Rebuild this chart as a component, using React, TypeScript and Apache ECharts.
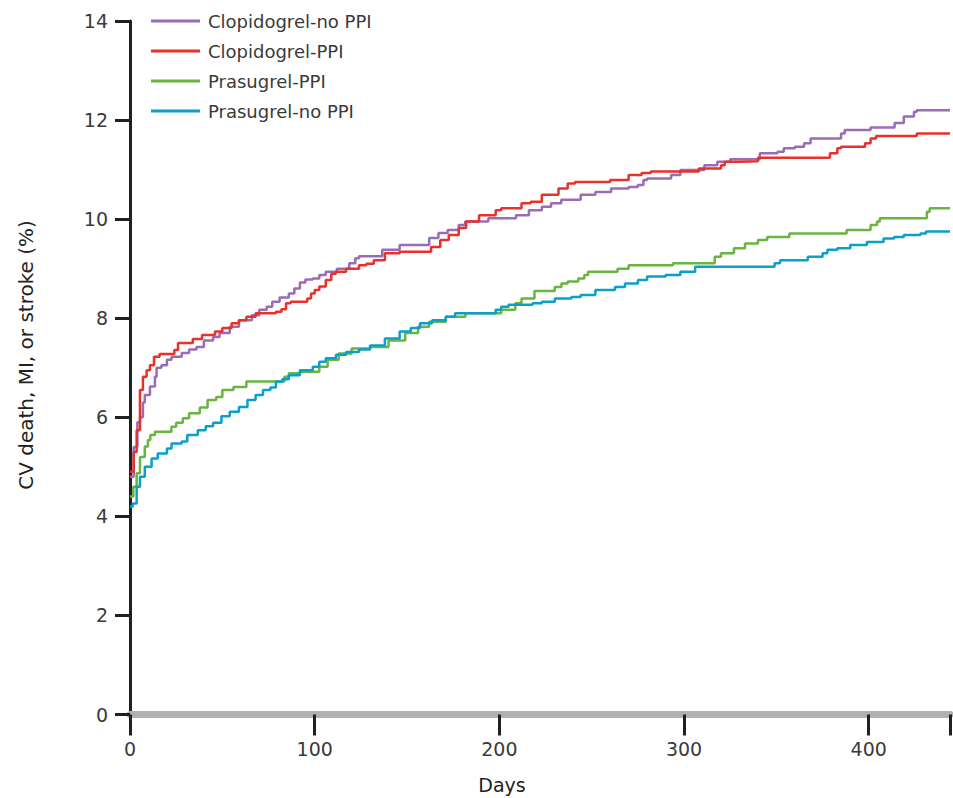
import React, { useEffect, useRef } from "react";
import * as echarts from "echarts";

const seriesNames = ["Clopidogrel-no PPI", "Clopidogrel-PPI", "Prasugrel-PPI", "Prasugrel-no PPI"];
const seriesColors = ["#9a6cb6", "#e8312a", "#6ab440", "#0aa0c8"];

const xTicks = [0, 100, 200, 300, 400];
const yTicks = [0, 2, 4, 6, 8, 10, 12, 14];

const clopidogrelNoPPI: [number, number][] = [
  [0, 4.8], [2, 5.4], [4, 5.9], [5.4, 6.0], [7, 6.3], [8, 6.45], [10.8, 6.62], [13.5, 6.82], [14.4, 7.0],
  [17, 7.05], [20, 7.16], [22.5, 7.22], [28, 7.3], [32, 7.37], [36, 7.42], [40, 7.55], [45, 7.62],
  [48.5, 7.7], [54, 7.83], [59, 7.96], [66, 8.06], [70, 8.17], [74, 8.23], [77, 8.33], [81, 8.42],
  [86, 8.5], [89, 8.6], [92, 8.72], [95, 8.78], [99, 8.8], [102.5, 8.87], [106, 8.94], [112, 9.0],
  [118.7, 9.11], [122, 9.21], [124, 9.25], [136.6, 9.38], [146, 9.48], [162, 9.62], [167, 9.72],
  [172, 9.78], [178, 9.88], [181.5, 9.95], [194, 10.02], [209, 10.08], [216, 10.18], [223, 10.25],
  [228, 10.32], [233.5, 10.39], [244, 10.49], [252, 10.55], [260.5, 10.62], [270, 10.65], [275, 10.69],
  [278, 10.79], [280, 10.82], [293, 10.89], [298, 10.99], [311, 11.09], [318, 11.16], [325, 11.21],
  [341, 11.33], [350.6, 11.36], [354, 11.43], [360, 11.46], [365, 11.53], [368.5, 11.63], [385, 11.73],
  [387, 11.8], [401, 11.85], [414, 11.94], [419, 12.07], [424.5, 12.17], [426, 12.2], [444, 12.2],
];

const clopidogrelPPI: [number, number][] = [
  [0, 4.9], [2, 5.3], [3.6, 5.74], [5.4, 6.55], [7, 6.82], [9, 6.95], [10.8, 7.05], [13, 7.22], [16, 7.28],
  [24, 7.36], [26, 7.5], [34, 7.58], [39, 7.66], [46, 7.73], [50, 7.8], [55, 7.9], [59, 7.96], [63, 8.03],
  [68, 8.1], [79, 8.13], [82, 8.18], [84.5, 8.3], [87, 8.33], [96, 8.4], [98, 8.5], [100, 8.57],
  [102.5, 8.64], [106, 8.77], [109, 8.9], [111.5, 8.94], [117, 9.0], [124, 9.07], [128, 9.1], [132, 9.17],
  [138, 9.31], [146, 9.34], [163, 9.44], [168, 9.58], [172.6, 9.68], [178, 9.82], [182, 9.95], [189, 10.08],
  [198, 10.18], [201, 10.22], [212, 10.32], [217, 10.35], [223, 10.49], [232, 10.62], [237, 10.72],
  [241, 10.75], [260, 10.79], [270, 10.89], [277, 10.93], [282, 10.96], [308, 11.02], [320, 11.09],
  [322, 11.16], [330, 11.17], [340, 11.24], [379, 11.33], [383, 11.43], [385, 11.46], [398, 11.53],
  [401, 11.63], [404, 11.68], [426, 11.73], [444, 11.73],
];

const prasugrelPPI: [number, number][] = [
  [0, 4.4], [1.8, 4.6], [3.6, 4.87], [5.4, 5.2], [8, 5.41], [9.7, 5.54], [11, 5.64], [13.5, 5.71],
  [22.4, 5.81], [25, 5.89], [28.6, 5.98], [32, 6.08], [37.8, 6.2], [42, 6.35], [46.7, 6.41], [50, 6.55],
  [56, 6.61], [63, 6.72], [83.6, 6.82], [86, 6.89], [92, 6.92], [102.5, 7.02], [107, 7.16], [113, 7.29],
  [120, 7.39], [130, 7.42], [140, 7.55], [149, 7.7], [156, 7.83], [162, 7.93], [171, 8.03], [181.6, 8.1],
  [201, 8.17], [208.6, 8.3], [212, 8.4], [219, 8.55], [230, 8.63], [233.6, 8.7], [237, 8.74], [242.7, 8.8],
  [246, 8.87], [248, 8.94], [264, 9.0], [270, 9.07], [294, 9.11], [316.6, 9.24], [320, 9.31], [327, 9.41],
  [333, 9.51], [340, 9.58], [345, 9.64], [357, 9.71], [388, 9.78], [401, 9.88], [404.5, 9.95],
  [406, 10.02], [431.5, 10.15], [433, 10.22], [444, 10.22],
];

const prasugrelNoPPI: [number, number][] = [
  [0, 4.2], [1.5, 4.26], [3.6, 4.6], [5.4, 4.8], [8, 5.0], [11.7, 5.17], [15, 5.27], [20, 5.37],
  [22.5, 5.47], [28, 5.51], [31, 5.64], [36.7, 5.74], [41, 5.82], [45, 5.89], [49.5, 6.02], [54, 6.11],
  [59, 6.21], [63.6, 6.35], [68, 6.45], [72, 6.55], [76, 6.6], [79, 6.72], [82.5, 6.77], [86, 6.85],
  [92, 6.95], [99, 7.02], [102.5, 7.12], [106, 7.19], [111.5, 7.26], [117, 7.32], [124, 7.37], [130, 7.45],
  [138, 7.59], [146, 7.73], [152, 7.8], [157, 7.9], [163.6, 7.96], [171, 8.03], [176, 8.1], [198, 8.17],
  [201, 8.23], [205, 8.27], [218, 8.3], [223, 8.33], [230, 8.4], [239, 8.43], [244, 8.47], [252, 8.57],
  [262.6, 8.63], [268, 8.7], [275, 8.77], [280, 8.84], [290, 8.87], [298, 8.94], [306, 9.04], [349, 9.11],
  [352, 9.17], [367, 9.24], [375, 9.31], [377.6, 9.38], [383, 9.41], [390, 9.48], [399, 9.54], [408, 9.61],
  [413.7, 9.64], [419, 9.68], [428, 9.71], [431, 9.75], [444, 9.75],
];

const allSeries = [clopidogrelNoPPI, clopidogrelPPI, prasugrelPPI, prasugrelNoPPI];

const FONT = "'DejaVu Sans', 'Liberation Sans', sans-serif";

export default function App() {
  const ref = useRef<HTMLDivElement>(null);
  useEffect(() => {
    if (!ref.current) return;
    const chart = echarts.init(ref.current, undefined, { renderer: "svg" });
    chart.setOption({
      animation: false,
      backgroundColor: "#ffffff",
      textStyle: { fontFamily: FONT },
      grid: { left: 130, right: 0, top: 21, bottom: 83.5, containLabel: false },
      legend: {
        data: seriesNames,
        orient: "vertical",
        left: 151,
        top: 6,
        padding: 0,
        icon: "rect",
        itemWidth: 49,
        itemHeight: 3,
        itemGap: 0,
        textStyle: { fontFamily: FONT, fontSize: 18, color: "#3a3a3a", lineHeight: 30, padding: [0, 0, 0, 3] },
        selectedMode: false,
      },
      xAxis: {
        type: "value",
        min: 0,
        max: 444,
        interval: 100,
        axisLine: { show: true, onZero: false, lineStyle: { color: "#b0b0b0", width: 7 } },
        axisTick: { show: true, length: 21, lineStyle: { color: "#231f20", width: 3 } },
        axisLabel: {
          margin: 25,
          fontSize: 19,
          color: "#3a3a3a",
          fontFamily: FONT,
          formatter: (v: number) => (xTicks.includes(v) ? String(v) : ""),
        },
        splitLine: { show: false },
      },
      yAxis: {
        type: "value",
        min: 0,
        max: 14,
        interval: 2,
        axisLine: { show: true, lineStyle: { color: "#231f20", width: 3 } },
        axisTick: { show: true, length: 15, lineStyle: { color: "#231f20", width: 3 } },
        axisLabel: {
          margin: 22,
          fontSize: 19,
          color: "#3a3a3a",
          fontFamily: FONT,
          formatter: (v: number) => (yTicks.includes(v) ? String(v) : ""),
        },
        splitLine: { show: false },
      },
      graphic: [
        {
          type: "text",
          x: 26,
          y: 355,
          rotation: Math.PI / 2,
          style: {
            text: "CV death, MI, or stroke (%)",
            fontSize: 20,
            fontFamily: FONT,
            fill: "#222",
            textAlign: "center",
            textVerticalAlign: "middle",
          },
        },
        {
          type: "text",
          x: 502,
          y: 785,
          style: {
            text: "Days",
            fontSize: 19,
            fontFamily: FONT,
            fill: "#222",
            textAlign: "center",
            textVerticalAlign: "middle",
          },
        },
      ],
      series: allSeries.map((d, i) => ({
        name: seriesNames[i],
        type: "line",
        step: "end",
        data: d,
        showSymbol: false,
        symbol: "none",
        lineStyle: { color: seriesColors[i], width: 2.5 },
        itemStyle: { color: seriesColors[i] },
        z: 3 + i,
      })),
    });
    return () => chart.dispose();
  }, []);
  return (
    <div
      ref={ref}
      style={{ position: "fixed", left: 0, top: 0, width: 953, height: 798, background: "#fff" }}
    />
  );
}
